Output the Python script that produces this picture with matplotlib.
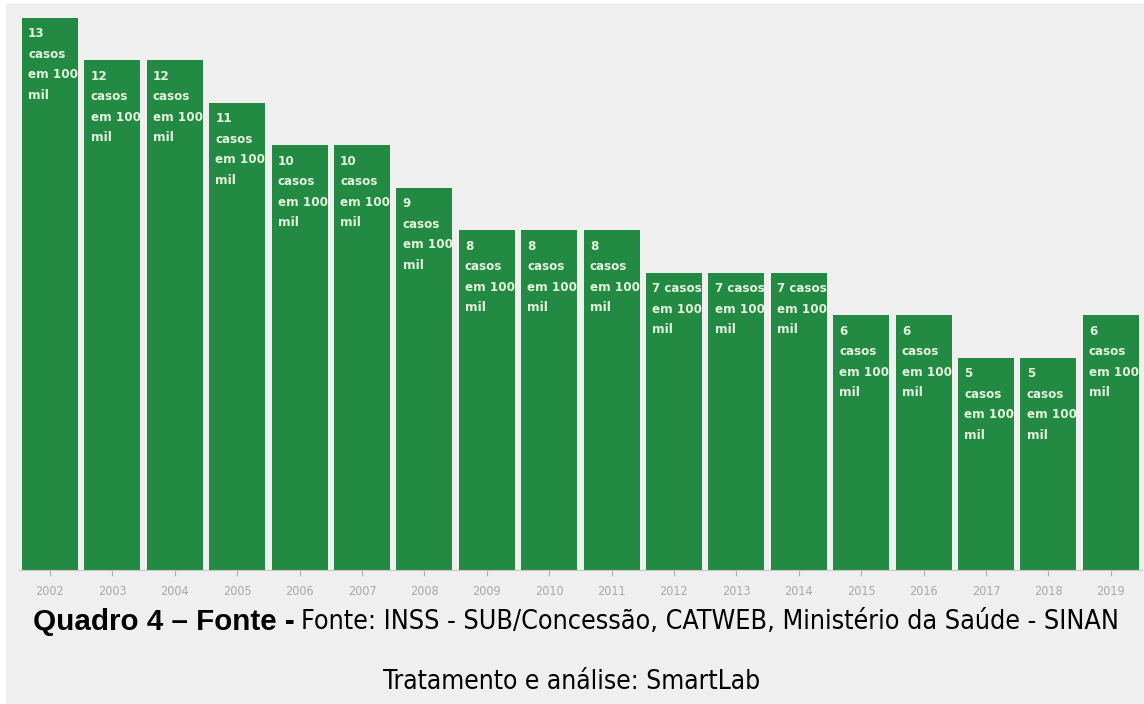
import matplotlib.pyplot as plt
import numpy as np

anos = ["2002", "2003", "2004", "2005", "2006", "2007", "2008", "2009", "2010",
        "2011", "2012", "2013", "2014", "2015", "2016", "2017", "2018", "2019"]
casos = [13, 12, 12, 11, 10, 10, 9, 8, 8, 8, 7, 7, 7, 6, 6, 5, 5, 6]

verde = "#238a43"
fundo = "#efefef"

fig = plt.figure(figsize=(11.44, 7.04), dpi=100)
fig.patch.set_facecolor("white")
# light gray panel behind everything
fig.add_artist(plt.Rectangle((6 / 1144, 0), 1 - 6 / 1144, 1 - 4 / 704,
                             transform=fig.transFigure, color=fundo, zorder=0))

ax = fig.add_axes([18.8 / 1144, 134 / 704, 1123.2 / 1144, 565.25 / 704])
ax.set_facecolor("none")
x = np.arange(len(anos))
ax.bar(x, casos, width=0.9, color=verde, zorder=2)
ax.set_xlim(-0.5, len(anos) - 0.5)
ax.set_ylim(0, 13.3)

for i, v in enumerate(casos):
    if v == 7:
        txt = f"{v} casos\nem 100\nmil"
    else:
        txt = f"{v}\ncasos\nem 100\nmil"
    ax.annotate(txt, (x[i] - 0.45, v), xytext=(4.5, -7), textcoords="offset points",
                ha="left", va="top", color="#e2f2dc", fontsize=9.5,
                fontweight="bold", fontstretch="condensed", linespacing=1.75,
                zorder=3)

ax.set_xticks(x)
ax.set_xticklabels(anos, fontsize=9, color="#a8a8a8", fontstretch="condensed")
ax.tick_params(axis="x", length=4, color="#b0b0b0", pad=7)
ax.set_yticks([])
for s in ["top", "right", "left"]:
    ax.spines[s].set_visible(False)
ax.spines["bottom"].set_color("#c8c8c8")

# caption: bold part followed by regular part
t1 = fig.text(33 / 1144, 1 - 622 / 704, "Quadro 4 – Fonte -", fontsize=21.3,
              fontweight="bold", family=["Liberation Sans", "DejaVu Sans"],
              ha="left", va="center")
fig.canvas.draw()
bb = t1.get_window_extent()
fig.text(bb.x1 / 1144 + 6 / 1144, 1 - 622 / 704,
         "Fonte: INSS - SUB/Concessão, CATWEB, Ministério da Saúde - SINAN",
         fontsize=19.3, fontstretch="condensed", ha="left", va="center")
fig.text(0.5, 1 - 682 / 704, "Tratamento e análise: SmartLab", fontsize=18.9,
         fontstretch="condensed", ha="center", va="center")

fig.savefig("out.png", dpi=100, facecolor=fig.get_facecolor())
